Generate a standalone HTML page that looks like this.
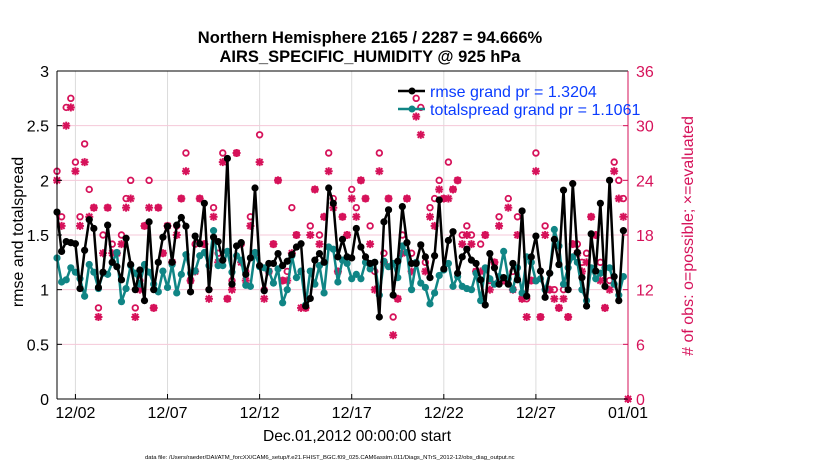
<!DOCTYPE html>
<html><head><meta charset="utf-8"><style>
body{margin:0;background:#fff;}
svg{display:block;font-family:"Liberation Sans",Arial,sans-serif;}
</style></head><body>
<svg id="chart" width="830" height="470" viewBox="0 0 830 470">
<rect width="830" height="470" fill="#fff"/>
<text x="370" y="43" text-anchor="middle" font-size="16.5" font-weight="bold">Northern Hemisphere 2165 / 2287 = 94.666%</text>
<text x="370" y="62" text-anchor="middle" font-size="16.5" font-weight="bold">AIRS_SPECIFIC_HUMIDITY @ 925 hPa</text>
<g id="grid"></g>
<g id="obs"></g>
<g id="lines"></g>
<g id="axes"></g>
<text transform="translate(23,232) rotate(-90)" text-anchor="middle" font-size="16">rmse and totalspread</text>
<text transform="translate(693,236) rotate(-90)" text-anchor="middle" font-size="16" fill="#d6125a"># of obs: o=possible; ×=evaluated</text>
<text x="357" y="441" text-anchor="middle" font-size="15.6">Dec.01,2012 00:00:00 start</text>
<text x="145" y="459" font-size="5.9">data file: /Users/raeder/DAI/ATM_forcXX/CAM6_setup/f.e21.FHIST_BGC.f09_025.CAM6assim.011/Diags_NTrS_2012-12/obs_diag_output.nc</text>
<g>
<line x1="398" y1="91" x2="425" y2="91" stroke="#000" stroke-width="2.5"/>
<circle cx="412" cy="91" r="3.5" fill="#000"/>
<text x="430" y="97" font-size="16" fill="#0a3cff">rmse grand pr = 1.3204</text>
<line x1="398" y1="109" x2="425" y2="109" stroke="#108585" stroke-width="2.5"/>
<circle cx="412" cy="109" r="3.5" fill="#108585"/>
<text x="430" y="115" font-size="16" fill="#0a3cff">totalspread grand pr = 1.1061</text>
</g>
</svg>
<script>
const rmse=[1.71,1.35,1.44,1.43,1.42,1.01,1.36,1.64,1.56,1.02,1.16,1.59,1.25,1.21,1.09,1.47,1.23,1.0,1.18,0.9,1.62,1.0,1.25,1.48,1.58,1.25,1.59,1.66,1.58,0.98,
1.49,1.42,1.79,1.0,1.48,1.44,1.27,2.2,1.05,1.40,1.43,1.14,1.29,1.93,1.22,0.99,1.24,1.24,1.33,1.22,1.26,1.32,1.39,1.42,0.85,0.92,1.27,1.33,1.25,
1.93,1.79,1.3,1.46,1.3,1.29,1.56,1.39,1.3,1.24,1.25,0.75,1.62,1.73,0.95,1.26,1.76,1.43,1.24,1.24,1.41,1.3,1.11,1.31,1.82,1.19,1.45,1.53,1.15,1.3,1.37,
1.27,1.24,1.09,0.86,1.33,1.2,1.05,1.11,1.05,1.24,1.09,1.72,0.94,1.3,1.49,1.17,0.93,1.15,1.46,1.23,1.91,1.0,1.97,1.34,1.11,0.85,1.51,1.17,1.79,1.03,2.0,1.12,0.9,1.54];
const spread=[1.29,1.07,1.09,1.2,1.16,1.1,0.94,1.23,1.16,1.01,1.15,1.14,1.25,1.34,0.89,1.01,1.22,1.15,1.05,1.23,1.16,1.05,0.98,1.17,1.02,1.23,0.97,1.14,1.32,1.15,
1.17,1.31,1.34,1.22,1.54,1.22,1.22,1.35,1.16,1.31,1.27,1.04,1.03,1.34,1.21,1.2,1.17,1.06,1.19,0.88,1.0,1.31,1.11,1.17,0.86,1.17,1.05,1.22,0.97,
1.39,1.37,1.07,1.27,1.24,1.1,1.14,1.1,1.25,1.19,1.25,0.95,1.26,1.21,1.24,1.11,1.4,1.34,1.0,1.25,1.06,1.02,0.87,0.97,1.13,1.18,1.24,1.03,1.12,1.03,1.01,
1.0,1.15,0.9,1.2,1.1,1.05,1.12,1.35,1.1,1.0,1.2,0.97,1.3,1.25,1.08,1.1,1.0,1.15,1.55,1.4,1.05,1.2,1.3,1.25,1.0,0.9,1.2,1.1,1.15,1.2,1.2,1.05,0.95,1.12];
const evaluated=[24,19,30,32,25,19,26,20,21,9,16,21,16,16,17,21,22,9,12,19,21,10,21,16,19,15,18,22,25,13,
14,22,17,11,20,15,26,11,12,27,15,13,19,16,26,11,14,17,24,13,13,16,18,10,10,18,23,17,20,
25,21,14,20,18,22,20,24,22,17,12,25,15,22,7,11,16,22,14,31,29,14,20,19,23,22,22,23,24,17,18,
17,14,14,18,12,15,19,13,21,12,18,11,9,13,25,9,18,12,11,10,11,9,17,16,14,15,20,18,13,10,12,25,22,20];
const possible=[25,20,32,33,26,20,28,23,21,10,18,21,17,16,18,22,24,10,13,19,24,10,21,16,19,15,19,22,27,13,
17,22,17,12,21,16,27,11,13,27,17,14,20,16,29,12,14,17,24,13,14,21,18,14,10,19,23,18,20,
27,22,14,20,18,23,21,24,22,19,14,27,16,22,9,11,18,22,16,33,32,15,21,22,24,22,26,23,24,18,19,
18,14,17,18,13,15,20,13,22,14,20,11,11,13,27,9,19,12,12,10,12,9,17,17,15,16,20,18,15,10,13,26,24,22];
const xTickLabels=["12/02","12/07","12/12","12/17","12/22","12/27","01/01"];
const xTickDays=[1,6,11,16,21,26,31];
const yTicks=[0,0.5,1,1.5,2,2.5,3];
const yTickLabels=["0","0.5","1","1.5","2","2.5","3"];
const rTicks=[0,6,12,18,24,30,36];

const L=57,R=628,T=71,B=399,NS="http://www.w3.org/2000/svg",MAG="#d6125a",TEAL="#108585";
const xDay=d=>L+(R-L)*d/31;
const xIdx=i=>xDay(i*0.25);
const yL=v=>B-(B-T)*v/3;
const yR=v=>B-(B-T)*v/36;
function mk(tag,attrs,parent){const e=document.createElementNS(NS,tag);for(const k in attrs)e.setAttribute(k,attrs[k]);parent.appendChild(e);return e;}
const grid=document.getElementById('grid'),axes=document.getElementById('axes'),obs=document.getElementById('obs'),lines=document.getElementById('lines');

xTickDays.forEach((d,i)=>{
  const g=mk('line',{x1:xDay(d),x2:xDay(d),y1:T,y2:B,stroke:'#dcdcdc','stroke-width':1},grid);
  
  
  mk('line',{x1:xDay(d),x2:xDay(d),y1:B,y2:B-5,stroke:'#000'},axes);
  const t=mk('text',{x:xDay(d),y:B+19,'text-anchor':'middle','font-size':16},axes);
  t.textContent=xTickLabels[i];
  
  
});
rTicks.forEach(v=>{
  if(v>0&&v<36){const g=mk('line',{x1:L,x2:R,y1:yR(v),y2:yR(v),stroke:'#f5c8d8','stroke-width':1},grid);
  
  }
  mk('line',{x1:R,x2:R-5,y1:yR(v),y2:yR(v),stroke:MAG},axes);
  const t=mk('text',{x:R+8,y:yR(v)+6,'font-size':16,fill:MAG},axes);
  t.textContent=v;
  
  
});
yTicks.forEach((v,i)=>{
  mk('line',{x1:L,x2:L+5,y1:yL(v),y2:yL(v),stroke:'#000'},axes);
  const t=mk('text',{x:L-8,y:yL(v)+6,'text-anchor':'end','font-size':16},axes);
  t.textContent=yTickLabels[i];
  
  
});
mk('line',{x1:L,x2:R,y1:T,y2:T,stroke:'#000'},axes);
mk('line',{x1:L,x2:R,y1:B,y2:B,stroke:'#000'},axes);
mk('line',{x1:L,x2:L,y1:T,y2:B,stroke:'#000'},axes);
mk('line',{x1:R,x2:R,y1:T,y2:B,stroke:MAG},axes);

function star(cx,cy,p,name){
  const s=4;const g=mk('g',{stroke:MAG,'stroke-width':2},p);
  mk('line',{x1:cx-s,x2:cx+s,y1:cy,y2:cy},g);mk('line',{x1:cx,x2:cx,y1:cy-s,y2:cy+s},g);
  mk('line',{x1:cx-3,x2:cx+3,y1:cy-3,y2:cy+3},g);mk('line',{x1:cx-3,x2:cx+3,y1:cy+3,y2:cy-3},g);
  
  
}
possible.forEach((v,i)=>{
  const c=mk('circle',{cx:xIdx(i),cy:yR(v),r:2.8,fill:'#fff',stroke:MAG,'stroke-width':1.8},obs);
  
  
});
evaluated.forEach((v,i)=>star(xIdx(i),yR(v),obs,'evaluated-obs-point'));
star(R,B,obs,'evaluated-obs-end');

function series(arr,color,name){
  const pl=mk('polyline',{points:arr.map((v,i)=>xIdx(i)+','+yL(v)).join(' '),fill:'none',stroke:color,'stroke-width':2.5,'stroke-linejoin':'round'},lines);
  
  
  arr.forEach((v,i)=>{
    const c=mk('circle',{cx:xIdx(i),cy:yL(v),r:3.6,fill:color},lines);
    
    
  });
}
series(spread,TEAL,'totalspread');
series(rmse,'#000','rmse');
</script>
</body></html>
